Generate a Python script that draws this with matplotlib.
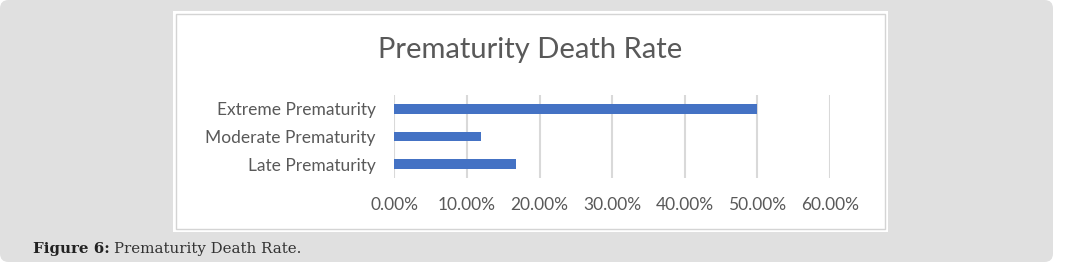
import matplotlib
matplotlib.use("Agg")
import matplotlib.pyplot as plt
from matplotlib.patches import FancyBboxPatch, Rectangle
from matplotlib.ticker import PercentFormatter

W, H = 1065, 262

# data
categories = ["Late Prematurity", "Moderate Prematurity", "Extreme Prematurity"]
death_rate = [0.167, 0.119, 0.50]
x_ticks = [0.0, 0.1, 0.2, 0.3, 0.4, 0.5, 0.6]
title = "Prematurity Death Rate"
caption_bold = "Figure 6:"
caption_text = "Prematurity Death Rate."

BAR = "#4472c4"
GRID = "#d9d9d9"
TXT = "#595959"


def fx(px):
    return px / W


def fy(py):
    return 1 - py / H


fig = plt.figure(figsize=(W / 100, H / 100), dpi=100)
fig.patch.set_facecolor("white")

# grey page panel
panel = FancyBboxPatch((fx(0), fy(262)), fx(1053), 262 / H,
                       boxstyle="round,pad=0,rounding_size=0.008",
                       transform=fig.transFigure, facecolor="#e0e0e0",
                       edgecolor="none", mutation_aspect=W / H, zorder=-10)
fig.add_artist(panel)

# white chart box with thin border
fig.add_artist(Rectangle((fx(173), fy(232)), fx(888 - 173), (232 - 11) / H,
                         transform=fig.transFigure, facecolor="white",
                         edgecolor="none", zorder=-9))
fig.add_artist(Rectangle((fx(176), fy(229)), fx(885 - 176), (229 - 14) / H,
                         transform=fig.transFigure, facecolor="white",
                         edgecolor="#d4d4d4", lw=1, zorder=-8))

ax = fig.add_axes([fx(394.3), fy(178), fx(830 - 394.3), (178 - 95) / H])
ax.set_facecolor("none")
ax.barh(categories, death_rate, height=0.355, color=BAR, zorder=3)
ax.set_xlim(0, 0.6)
ax.set_ylim(-0.5, 2.5)
ax.set_xticks(x_ticks)
ax.xaxis.set_major_formatter(PercentFormatter(1.0, decimals=2))
ax.grid(axis="x", color=GRID, lw=1.5, zorder=0)
for s in ax.spines.values():
    s.set_visible(False)
ax.tick_params(axis="both", length=0, colors=TXT, labelsize=12.5)
ax.tick_params(axis="x", pad=13.5)
ax.tick_params(axis="y", pad=13.5)
for lab in ax.get_xticklabels() + ax.get_yticklabels():
    lab.set_fontfamily("Lato")

fig.text(fx(530.5), fy(50), title, ha="center", va="center",
         fontsize=21, color=TXT, family="Lato")

# caption: bold label followed by regular text
cap = fig.text(fx(33), fy(249), caption_bold, ha="left", va="center",
               fontsize=10.8, color="#222222", family="DejaVu Serif",
               weight="bold")
fig.canvas.draw()
bb = cap.get_window_extent()
fig.text(bb.x1 / W + fx(4), fy(249), caption_text, ha="left", va="center",
         fontsize=10.8, color="#333333", family="DejaVu Serif")

fig.savefig("out.png", dpi=100, facecolor=fig.get_facecolor())
